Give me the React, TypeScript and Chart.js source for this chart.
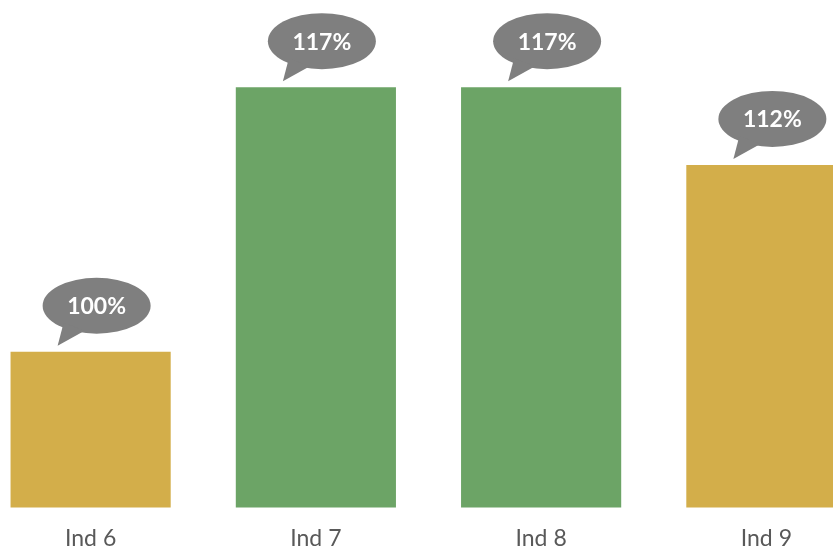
import React, { useEffect, useRef } from "react";
import { Chart, registerables } from "chart.js";

Chart.register(...registerables);

const categories = ["Ind 6", "Ind 7", "Ind 8", "Ind 9"];
const values = [100, 117, 117, 112];
const valueLabels = ["100%", "117%", "117%", "112%"];

const GOLD = "#D3AE4A";
const GREEN = "#6CA466";
const barColors = [GOLD, GREEN, GREEN, GOLD];

const bubblePlugin = {
  id: "bubbles",
  afterDatasetsDraw(chart: any) {
    const ctx = chart.ctx;
    const meta = chart.getDatasetMeta(0);
    meta.data.forEach((bar: any, i: number) => {
      const cx = bar.x + 6;
      const cy = bar.y - 46;
      const rx = 54;
      const ry = 28;
      ctx.save();
      ctx.fillStyle = "#7F7F7F";
      ctx.beginPath();
      ctx.ellipse(cx, cy, rx, ry, 0, 0, Math.PI * 2);
      ctx.fill();
      ctx.beginPath();
      ctx.moveTo(cx - 33, cy + 17);
      ctx.lineTo(cx - 39, cy + 40);
      ctx.lineTo(cx - 12, cy + 25);
      ctx.closePath();
      ctx.fill();
      ctx.fillStyle = "#FFFFFF";
      ctx.font = "bold 23px Lato";
      ctx.textAlign = "center";
      ctx.textBaseline = "middle";
      ctx.fillText(valueLabels[i], cx, cy + 1);
      ctx.restore();
    });
  },
};

export default function App() {
  const ref = useRef<HTMLCanvasElement | null>(null);
  useEffect(() => {
    if (!ref.current) return;
    const chart = new Chart(ref.current, {
      type: "bar",
      data: {
        labels: categories,
        datasets: [
          {
            data: values,
            backgroundColor: barColors,
            borderWidth: 0,
            barPercentage: 0.711,
            categoryPercentage: 1,
          },
        ],
      },
      options: {
        responsive: false,
        animation: false,
        devicePixelRatio: 1,
        layout: { padding: 0 },
        plugins: { legend: { display: false }, tooltip: { enabled: false } },
        scales: {
          y: { display: false, min: 90, max: 122.6 },
          x: {
            grid: { display: false, drawTicks: false },
            border: { display: false },
            ticks: {
              color: "#595959",
              font: { family: "Lato", size: 23 },
              padding: 17,
              maxRotation: 0,
            },
          },
        },
      },
      plugins: [bubblePlugin],
    });
    return () => chart.destroy();
  }, []);
  return (
    <div style={{ position: "fixed", left: -22, top: 0, width: 901, height: 569 }}>
      <canvas ref={ref} width={901} height={569} style={{ width: 901, height: 569 }} />
    </div>
  );
}
